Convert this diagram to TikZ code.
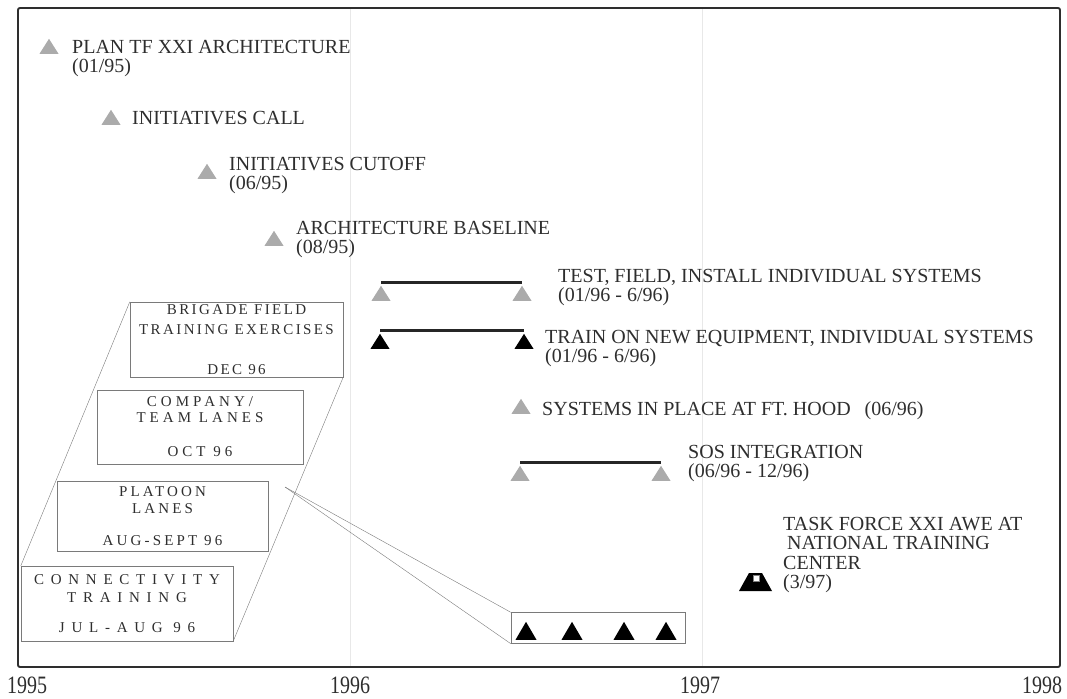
\documentclass[tikz,border=0pt]{standalone}
\usepackage{fontspec}
\setmainfont{Liberation Serif}
\usetikzlibrary{shapes.geometric,positioning}

\definecolor{inkgray}{HTML}{2E2E2E}
\definecolor{markgray}{HTML}{ABABAB}
\definecolor{boxgray}{HTML}{7A7A7A}

\tikzset{
  milestone/.style={isosceles triangle, shape border rotate=90, isosceles triangle stretches,
                    minimum width=19pt, minimum height=15pt, inner sep=0pt, anchor=south, fill=markgray},
  blackstone/.style={milestone, fill=black},
  event/.style={anchor=north west, inner sep=0pt, align=left, text=inkgray, font=\fontsize{20}{19.5}\selectfont},
  phasebox/.style={draw=boxgray, inner sep=0pt, align=center, text=inkgray},
  spanbar/.style={line width=3pt, black!85},
  year/.style={anchor=base, inner sep=0pt, text=inkgray, font=\fontsize{25}{25}\selectfont\addfontfeature{FakeStretch=0.8}}
}

\begin{document}
\begin{tikzpicture}[x=1pt, y=-1pt]
    \useasboundingbox (0,0) rectangle (1067,698);

    % Frame and year grid
    \foreach \x in {350,702} \draw[gray!18, line width=0.6pt] (\x,9) -- (\x,666);
    \draw[line width=1.9pt, inkgray, rounded corners=2pt] (18,8) rectangle (1060,667);
    \node[year] (y95) at (27,693) {1995};
    \node[year] (y96) at (350,693) {1996};
    \node[year] (y97) at (700,693) {1997};
    \node[year] (y98) at (1042,693) {1998};

    % 1995 milestones
    \node[milestone] (plan) at (49,54) {};
    \node[event] (ev-plan) at (72,40) {PLAN TF XXI ARCHITECTURE\\(01/95)};
    \node[milestone] (call) at (111,125) {};
    \node[event] (ev-call) at (132,111) {INITIATIVES CALL};
    \node[milestone] (cutoff) at (207,179) {};
    \node[event] (ev-cutoff) at (229,157) {INITIATIVES CUTOFF\\(06/95)};
    \node[milestone] (base) at (274,246) {};
    \node[event] (ev-base) at (296,221) {ARCHITECTURE BASELINE\\(08/95)};

    % 1996 spans
    \node[milestone] (tst-a) at (381,301) {};
    \node[milestone] (tst-b) at (522,301) {};
    \draw[spanbar] ([yshift=3pt]tst-a.apex) -- ([yshift=3pt]tst-b.apex);
    \node[event] (ev-test) at (558,269) {TEST, FIELD, INSTALL INDIVIDUAL SYSTEMS\\(01/96 - 6/96)};

    \node[blackstone] (trn-a) at (380,349) {};
    \node[blackstone] (trn-b) at (524,349) {};
    \draw[spanbar] ([yshift=3pt]trn-a.apex) -- ([yshift=3pt]trn-b.apex);
    \node[event] (ev-train) at (545,330) {TRAIN ON NEW EQUIPMENT, INDIVIDUAL SYSTEMS\\(01/96 - 6/96)};

    \node[milestone] (sys) at (521,414) {};
    \node[event] (ev-sys) at (542,401) {SYSTEMS IN PLACE AT FT. HOOD\hspace{14pt}(06/96)};

    \node[milestone] (sos-a) at (520,481) {};
    \node[milestone] (sos-b) at (661,481) {};
    \draw[spanbar] ([yshift=3pt]sos-a.apex) -- ([yshift=3pt]sos-b.apex);
    \node[event] (ev-sos) at (688,445) {SOS INTEGRATION\\(06/96 - 12/96)};

    % AWE at NTC
    \fill[black] (739,591) -- (749,573) -- (762,573) -- (772,591) -- cycle;
    \filldraw[fill=white, draw=gray] (753,575) rectangle (759,581);
    \node[event] (ev-awe) at (783,517) {TASK FORCE XXI AWE AT\\\hspace*{4pt}NATIONAL TRAINING\\CENTER\\(3/97)};

    % Training phases
    \node[phasebox, minimum width=213pt, minimum height=75pt, font={\fontsize{15}{20}\selectfont\addfontfeature{LetterSpace=16}}]
        (brigade) at (236.5,339.5) {BRIGADE FIELD\\TRAINING EXERCISES\\[20pt]DEC 96};
    \node[phasebox, minimum width=206pt, minimum height=74pt, font={\fontsize{15}{16}\selectfont\addfontfeature{LetterSpace=27}}]
        (company) at (200,427) {COMPANY/\\TEAM LANES\\[18pt]OCT 96};
    \node[phasebox, minimum width=211pt, minimum height=70pt, font={\fontsize{15}{17}\selectfont\addfontfeature{LetterSpace=21}}]
        (platoon) at (162.5,516) {PLATOON\\LANES\\[15pt]AUG-SEPT 96};
    \node[phasebox, minimum width=212pt, minimum height=75pt, font={\fontsize{15}{18}\selectfont\addfontfeature{LetterSpace=45}}]
        (connect) at (127,603.5) {CONNECTIVITY\\TRAINING\\[12pt]JUL-AUG 96};
    \draw[boxgray] (brigade.north west) -- (connect.north west);
    \draw[boxgray] (brigade.south east) -- (connect.south east);

    % Platoon lanes detail
    \coordinate (lens) at (285,487);
    \node[draw=boxgray, minimum width=174pt, minimum height=31pt, inner sep=0pt] (strip) at (598,628) {};
    \draw[boxgray] (lens) -- (strip.north west);
    \draw[boxgray] (lens) -- (strip.south west);
    \foreach \x [count=\i] in {526,572,624,666}
        \node[blackstone, minimum width=21pt, minimum height=18pt] (lane\i) at (\x,640) {};

\end{tikzpicture}
\end{document}
